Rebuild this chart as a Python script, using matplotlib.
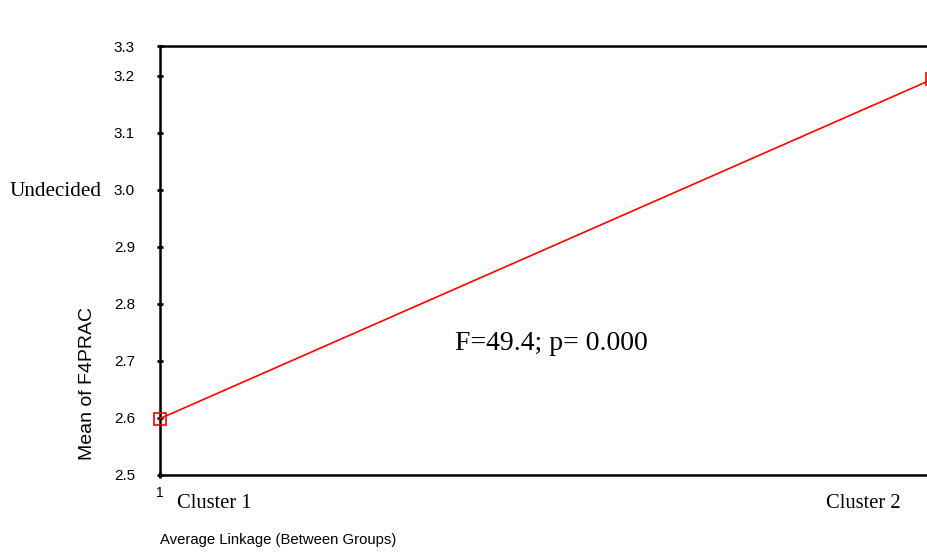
import matplotlib
matplotlib.use("Agg")
import matplotlib.pyplot as plt

categories = ["Cluster 1", "Cluster 2"]
x_values = [1, 2]
means = [2.599, 3.194]
ytick_values = [2.5, 2.6, 2.7, 2.8, 2.9, 3.0, 3.1, 3.2, 3.2526]
ytick_labels = ["2.5", "2.6", "2.7", "2.8", "2.9", "3.0", "3.1", "3.2", "3.3"]

W, H = 928, 554
fig = plt.figure(figsize=(W / 100, H / 100), dpi=100)
x0, x1px = 160, 932
xmax = 2.12
ax_left = x0 / W
ax_width = (x1px - x0) * (xmax - 1) / W
ax_bottom = (H - 475) / H
ax_height = (475 - 46) / H
ax = fig.add_axes([ax_left, ax_bottom, ax_width, ax_height])

ax.plot(x_values, means, color="#ff0000", lw=1.2, marker="s", ms=8,
        mfc="none", mec="#ff0000", mew=1.2, clip_on=False, zorder=3)

ax.set_xlim(1, xmax)
ax.set_ylim(2.5, ytick_values[-1])
ax.set_yticks(ytick_values)
ax.set_yticklabels(ytick_labels, fontfamily="Liberation Sans", fontsize=11)
ax.set_xticks([1, 2])
ax.set_xticklabels(["1", "2"], fontfamily="Liberation Sans", fontsize=10)
ax.tick_params(axis="both", direction="inout", length=4, width=2, color="black")
ax.tick_params(axis="y", pad=16)
ax.tick_params(axis="x", pad=6)

for s in ["left", "bottom", "top"]:
    ax.spines[s].set_linewidth(1.8)
ax.spines["right"].set_visible(False)

fig.text(88 / W, 1 - 384 / H, "Mean of F4PRAC", fontfamily="Liberation Sans", fontsize=14,
         rotation=90, ha="center", va="center")
fig.text(177 / W, 1 - 503 / H, categories[0], fontfamily="Liberation Serif", fontsize=14.8,
         ha="left", va="center")
fig.text(901 / W, 1 - 503 / H, categories[1], fontfamily="Liberation Serif", fontsize=14.8,
         ha="right", va="center")
fig.text(102 / W, 1 - 192 / H, "Undecided", fontfamily="Liberation Serif", fontsize=15.2,
         ha="right", va="center")
fig.text(455 / W, 1 - 343 / H, "F=49.4; p= 0.000", fontfamily="Liberation Serif", fontsize=20,
         ha="left", va="center")
fig.text(160 / W, 1 - 540 / H, "Average Linkage (Between Groups)", fontfamily="Liberation Sans",
         fontsize=10.7, ha="left", va="center")

fig.savefig("out.png", dpi=100)
